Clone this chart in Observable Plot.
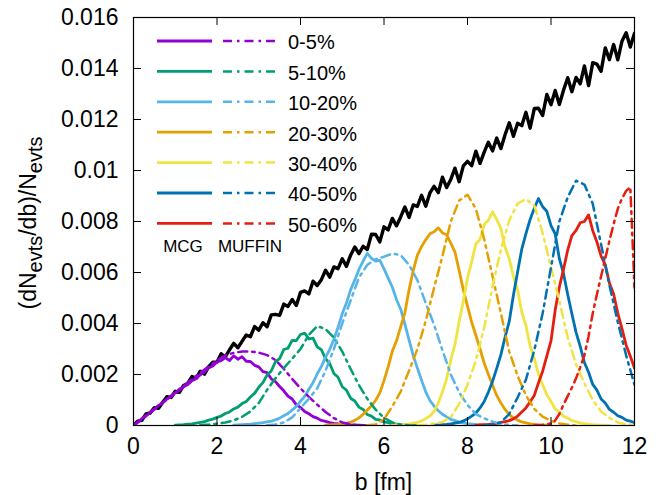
<!DOCTYPE html>
<html><head><meta charset="utf-8">
<script src="https://cdn.jsdelivr.net/npm/d3@7"></script>
<script src="https://cdn.jsdelivr.net/npm/@observablehq/plot@0.6"></script>
<style>
body{margin:0;background:#fff}
svg{font-family:"Liberation Sans",Arial,Helvetica,sans-serif}
</style>
</head><body><div id="chart"></div>
<script>
// values are stored in units of 1e-5 (dN/db / N)
const UNIT = 1e-5;
const xTicks = [0, 2, 4, 6, 8, 10, 12];
const yTicks = [0, 0.002, 0.004, 0.006, 0.008, 0.01, 0.012, 0.014, 0.016];
const classes = ["0-5%", "5-10%", "10-20%", "20-30%", "30-40%", "40-50%", "50-60%"];
const colors = ["#9400d3", "#009e73", "#56b4e9", "#e69f00", "#f0e442", "#0072b2", "#e51e10"];

// total distribution, bins of 0.1 fm from b = 0
const allStart = 0, allStep = 0.1;
const allEvents = [0,17,20,45,49,70,67,91,113,110,134,130,157,165,192,185,213,201,231,248,249,281,269,297,322,305,330,355,348,388,374,403,387,434,436,432,476,467,494,471,522,528,516,566,549,572,609,582,622,615,654,624,668,700,674,703,690,750,749,720,779,767,812,783,818,857,816,865,859,903,860,912,938,913,974,933,965,1009,956,1018,1036,1019,1076,1028,1072,1111,1077,1127,1086,1140,1187,1134,1185,1176,1228,1166,1243,1244,1216,1298,1258,1314,1259,1315,1364,1309,1365,1340,1410,1333,1423,1417,1389,1481,1435,1494,1434,1507,1540,1484,1538];

// MCG (solid), bins of 0.1 fm
const mcgStart = [0, 1.0, 2.4, 4.6, 6.2, 7.2, 8.2];
const mcgStep = 0.1;
const mcg0_5 = [0,12,27,37,52,63,79,88,104,113,129,137,152,161,176,183,199,210,226,233,249,254,266,255,273,260,270,252,251,236,230,211,207,183,172,153,136,115,104,81,71,55,46,35,29,20,16,11,8,6,4,3,2,1,1,0];
const mcg5_10 = [1,2,3,5,6,9,12,15,21,25,32,37,47,53,65,72,86,94,112,126,150,168,198,214,250,262,298,303,334,333,357,362,340,343,308,297,262,243,204,189,152,139,107,96,72,63,43,37,24,22,14,11,7,5,3,2,1,1,0];
const mcg10_20 = [1,2,3,4,5,7,9,11,14,17,22,29,38,47,61,75,95,114,142,168,202,232,268,298,338,385,438,480,532,570,612,645,675,655,645,648,614,578,542,493,456,398,336,274,225,177,132,98,76,58,44,34,24,19,13,10,7,5,3,2,1,1,0];
const mcg20_30 = [1,2,3,4,6,9,13,20,30,44,61,77,99,128,176,230,292,332,387,442,532,608,668,702,728,752,760,775,755,748,715,680,608,532,468,405,354,300,245,200,158,118,88,63,43,30,21,14,10,6,4,2,1,1,0];
const mcg30_40 = [1,2,3,4,6,9,12,18,27,37,56,88,132,183,257,318,408,488,578,642,712,730,788,805,838,808,772,698,654,584,532,444,392,312,263,200,160,121,94,64,54,36,29,19,15,10,7,5,3,2,1,1,0];
const mcg40_50 = [1,2,3,4,6,9,12,18,26,37,49,69,94,131,173,224,278,347,408,512,602,692,752,808,852,890,858,840,784,752,654,596,514,438,365,310,247,209,161,139,104,88,63,52,38,32,21,17,11];
const mcg50_60 = [1,2,3,4,6,8,12,15,19,26,37,53,69,93,118,167,213,272,332,452,543,612,688,745,765,795,800,826,764,720,664,630,558,516,440,380,315,272,224];

// MUFFIN (dash-dot)
const mufStart = [0, 1.6, 3.2, 5.6, 6.8, 8.4, 9.6];
const mufStep = [0.2, 0.2, 0.2, 0.2, 0.2, 0.2, 0.1];
const muf0_5 = [0,26,52,78,104,130,156,182,207,232,256,275,285,290,290,286,276,257,222,183,146,112,82,53,29,12,4,1,0];
const muf5_10 = [2,4,7,12,20,34,55,88,140,185,225,262,300,355,390,378,345,290,222,158,105,62,30,12,4,1,0];
const muf10_20 = [1,4,12,32,68,105,146,215,300,400,490,580,630,652,662,674,668,630,570,480,395,295,200,130,80,45,28,15,6,2,0];
const muf20_30 = [1,4,25,75,133,215,300,410,540,665,800,882,905,850,730,585,440,290,195,118,65,35,18,8,3,0];
const muf30_40 = [1,3,8,14,32,85,160,255,385,545,690,805,870,888,862,755,620,490,345,240,165,100,55,30,12,5,2];
const muf40_50 = [1,4,12,45,110,180,295,440,620,800,895,960,945,870,710,550,405,275,160];
const muf50_60 = [1,2,3,5,8,20,45,82,115,148,185,228,275,350,440,515,585,655,725,790,850,890,920,935,540];

const mcgVals = [mcg0_5, mcg5_10, mcg10_20, mcg20_30, mcg30_40, mcg40_50, mcg50_60];
const mufVals = [muf0_5, muf5_10, muf10_20, muf20_30, muf30_40, muf40_50, muf50_60];

function rows(start, step, vals, k) {
  return vals.map((v, i) => ({b: +(start + i * step).toFixed(3), v: v * UNIT, k}));
}
const allRows = rows(allStart, allStep, allEvents, "all");
const mcgRows = mcgVals.flatMap((vals, i) => rows(mcgStart[i], mcgStep, vals, classes[i]));
const mufRows = mufVals.flatMap((vals, i) => rows(mufStart[i], mufStep[i], vals, classes[i]));

const W = 665, H = 495, mL = 133, mR = 31, mT = 17, mB = 70;
const fw = W - mL - mR, fh = H - mT - mB, tick = 8;

const svg = Plot.plot({
  width: W, height: H,
  marginLeft: mL, marginRight: mR, marginTop: mT, marginBottom: mB,
  style: {background: "white", color: "black", fontFamily: "Liberation Sans, Arial, sans-serif"},
  x: {domain: [0, 12], label: null},
  y: {domain: [0, 0.016], label: null},
  color: {domain: classes, range: colors},
  marks: [
    Plot.line(allRows, {x: "b", y: "v", stroke: "black", strokeWidth: 3.4, clip: true}),
    Plot.line(mcgRows, {x: "b", y: "v", z: "k", stroke: "k", strokeWidth: 2.8, clip: true}),
    Plot.line(mufRows, {x: "b", y: "v", z: "k", stroke: "k", strokeWidth: 2.5, strokeDasharray: "9,5,2.5,5", clip: true}),
    Plot.frame({stroke: "black", strokeWidth: 1.2}),
    Plot.tickX(xTicks, {x: d => d, insetTop: fh - tick, stroke: "black"}),
    Plot.tickX(xTicks, {x: d => d, insetBottom: fh - tick, stroke: "black"}),
    Plot.tickY(yTicks, {y: d => d, insetRight: fw - tick, stroke: "black"}),
    Plot.tickY(yTicks, {y: d => d, insetLeft: fw - tick, stroke: "black"}),
    Plot.axisX(xTicks, {tickSize: 0, tickPadding: 12, fontSize: 23, label: null}),
    Plot.axisY(yTicks, {tickSize: 0, tickPadding: 15, fontSize: 23, label: null,
      tickFormat: d => d === 0 ? "0" : String(+d.toFixed(3))})
  ]
});

const s = d3.select(svg);
// axis titles
s.append("text").attr("x", mL + fw / 2).attr("y", 490).attr("text-anchor", "middle")
  .attr("font-size", 23).attr("fill", "black").text("b [fm]");
const yl = s.append("text").attr("transform", `translate(36,${mT + fh / 2 + 2}) rotate(-90)`)
  .attr("text-anchor", "middle").attr("font-size", 23).attr("fill", "black");
yl.append("tspan").text("(dN");
yl.append("tspan").attr("font-size", 20).attr("dy", 6).text("evts");
yl.append("tspan").attr("dy", -6).text("/db)/N");
yl.append("tspan").attr("font-size", 20).attr("dy", 6).text("evts");

// legend
const lg = s.append("g");
classes.forEach((c, i) => {
  const y = 41 + i * 30.4;
  lg.append("line").attr("x1", 157).attr("x2", 212).attr("y1", y).attr("y2", y)
    .attr("stroke", colors[i]).attr("stroke-width", 2.8);
  lg.append("line").attr("x1", 223).attr("x2", 275).attr("y1", y).attr("y2", y)
    .attr("stroke", colors[i]).attr("stroke-width", 2.5).attr("stroke-dasharray", "9,5,2.5,5");
  lg.append("text").attr("x", 288).attr("y", y).attr("dy", "0.42em").attr("font-size", 20)
    .attr("text-anchor", "start").attr("fill", "black").text(c);
});
lg.append("text").attr("x", 183).attr("y", 246).attr("dy", "0.35em").attr("text-anchor", "middle")
  .attr("font-size", 17).attr("fill", "black").text("MCG");
lg.append("text").attr("x", 250).attr("y", 246).attr("dy", "0.35em").attr("text-anchor", "middle")
  .attr("font-size", 17).attr("fill", "black").text("MUFFIN");

document.getElementById("chart").appendChild(svg);
</script>
</body></html>
